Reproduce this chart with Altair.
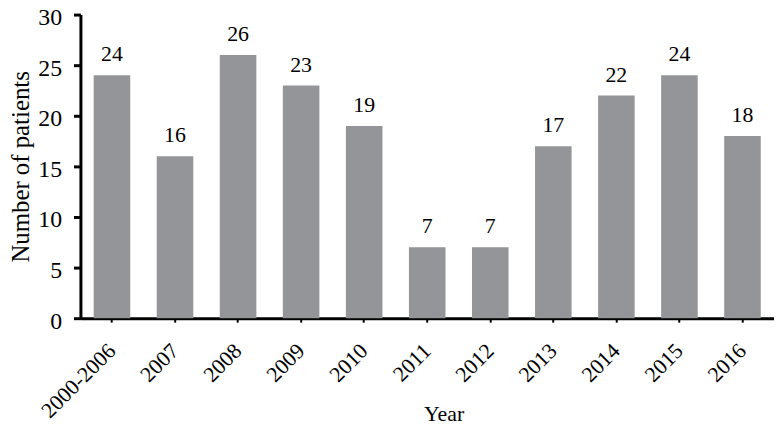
import altair as alt
import pandas as pd

years = ["2000-2006", "2007", "2008", "2009", "2010", "2011", "2012", "2013", "2014", "2015", "2016"]
patients = [24, 16, 26, 23, 19, 7, 7, 17, 22, 24, 18]

df = pd.DataFrame({"Year": years, "Patients": patients})

FONT = "Liberation Serif"

x = alt.X("Year:N", sort=years,
          scale=alt.Scale(paddingInner=0.42, paddingOuter=0.21),
          axis=alt.Axis(title="Year", labelAngle=-45, labelFont=FONT, labelFontSize=22,
                        labelColor="black", labelPadding=25, labelAlign="right",
                        labelBaseline="middle",
                        domainColor="black", domainWidth=3,
                        tickColor="black", tickWidth=2, tickSize=4,
                        titleFont=FONT, titleFontSize=22, titleFontWeight="normal",
                        titleColor="black", titleX=366, titleY=103,
                        titleBaseline="alphabetic"))
y = alt.Y("Patients:Q",
          scale=alt.Scale(domain=[0, 30]),
          axis=alt.Axis(title="Number of patients", values=[0, 5, 10, 15, 20, 25, 30],
                        grid=False, labelFont=FONT, labelFontSize=24, labelColor="black",
                        labelPadding=12, labelOffset=3, domainColor="black", domainWidth=3,
                        tickColor="black", tickWidth=3, tickSize=7,
                        titleFont=FONT, titleFontSize=25, titleFontWeight="normal",
                        titleColor="black", titlePadding=4))

bars = alt.Chart(df).mark_bar(color="#939598").encode(x=x, y=y)
labels = alt.Chart(df).mark_text(font=FONT, fontSize=22, color="black",
                                 baseline="alphabetic", dy=-14).encode(
    x=alt.X("Year:N", sort=years), y="Patients:Q", text="Patients:Q")

chart = (bars + labels).properties(
    width=699, height=306,
    autosize=alt.AutoSizeParams(type="none"),
    padding={"left": 73, "top": 5, "right": 0, "bottom": 106},
).configure_view(stroke=None)

chart.save("out.html", embed_options={"renderer": "svg", "actions": False})
